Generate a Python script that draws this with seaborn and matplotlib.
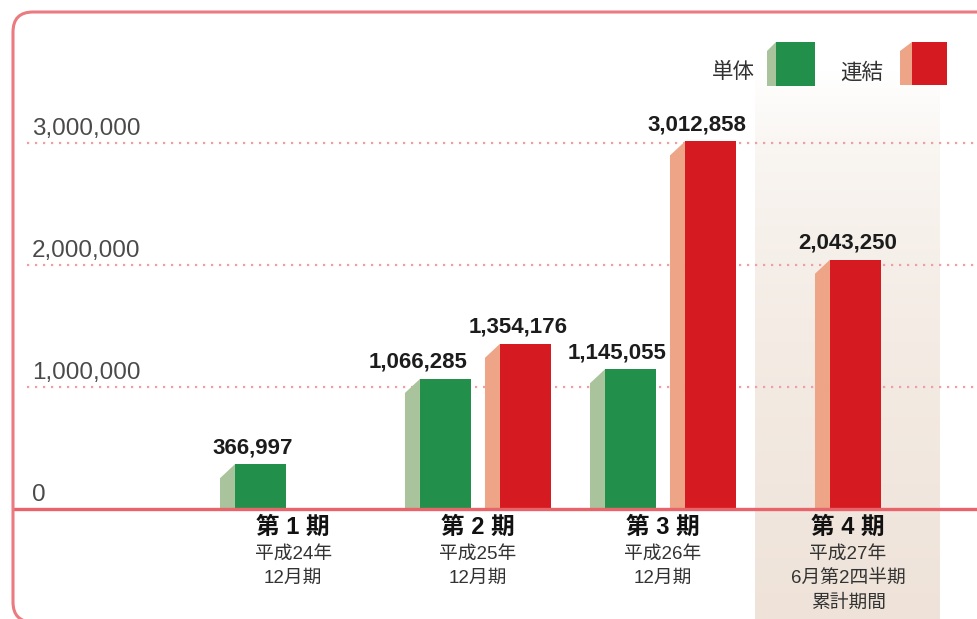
import numpy as np
import pandas as pd
import matplotlib
matplotlib.use("Agg")
import matplotlib.pyplot as plt
import matplotlib.patches as mpatches
import seaborn as sns

# ---------------- data ----------------
periods = ["第 1 期", "第 2 期", "第 3 期", "第 4 期"]
period_sub = [["平成24年", "12月期"],
              ["平成25年", "12月期"],
              ["平成26年", "12月期"],
              ["平成27年", "6月第2四半期", "累計期間"]]
series = ["単体", "連結"]
tantai = [366997, 1066285, 1145055, np.nan]
renketsu = [np.nan, 1354176, 3012858, 2043250]
yticks = [0, 1000000, 2000000, 3000000]
ytick_labels = ["0", "1,000,000", "2,000,000", "3,000,000"]

# ---------------- style ----------------
GREEN, GREEN_SIDE = "#22904a", "#a9c49c"
RED, RED_SIDE = "#d61a22", "#eea486"
PINK = "#eb7b80"
TXT = "#1c1c1c"
W, H = 977, 619

sns.set_theme(style="white")
plt.rcParams["font.family"] = ["Liberation Sans", "Noto Sans CJK JP", "DejaVu Sans"]

fig = plt.figure(figsize=(W / 100, H / 100), dpi=100, facecolor="white")
ax = fig.add_axes([0, 0, 1, 1])

# pixel mapping (layout only)
X0PX, XSTEP = 300.5, 185.0
Y0PX, YSTEP = 509.0, 122.0
def PX(px):
    return (px - X0PX) / XSTEP
def PY(py):
    return (Y0PX - py) / YSTEP * 1e6
XL, XR = PX(0), PX(W)
YB, YT = PY(H), PY(0)

df = pd.DataFrame({
    "period": periods * 2,
    "series": [series[0]] * 4 + [series[1]] * 4,
    "value": tantai + renketsu,
})

sns.barplot(data=df, x="period", y="value", hue="series", order=periods,
            hue_order=series, palette={series[0]: GREEN, series[1]: RED},
            width=0.865, gap=0.362, dodge=True, saturation=1, errorbar=None,
            linewidth=0, legend=False, ax=ax, zorder=3)

# highlight band behind 4th period
grad = np.array([[239, 227, 217], [244, 236, 229], [249, 245, 241], [255, 255, 255]]) / 255.0
gy = np.linspace(0, 1, 200)
stops = np.array([0.0, 0.55, 0.85, 1.0])
img = np.stack([np.interp(gy, stops, grad[:, c]) for c in range(3)], axis=-1)[:, None, :]
ax.imshow(img, extent=[PX(755), PX(940), YB, PY(70)], origin="lower",
          aspect="auto", zorder=0.5, interpolation="bilinear")

side_w = 15 / XSTEP
slant = 14 / YSTEP * 1e6
center_solo = [False, False, False, True]
label_dx = {(series[0], 1): -20, (series[0], 2): -6, (series[1], 2): -6}
side_cols = {series[0]: GREEN_SIDE, series[1]: RED_SIDE}

for cont, s in zip(ax.containers, series):
    for p in cont.patches:
        h = p.get_height()
        if h is None or np.isnan(h) or h == 0:
            continue
        cx = p.get_x() + p.get_width() / 2
        idx = int(round(cx))
        if center_solo[idx]:
            p.set_x(idx - p.get_width() / 2)
        xr = p.get_x()
        xl = xr - side_w
        poly = mpatches.Polygon([(xl, 0), (xl, h - slant), (xr, h), (xr, 0)],
                                closed=True, facecolor=side_cols[s],
                                edgecolor="none", zorder=3)
        ax.add_patch(poly)
        tx = (xl + xr + p.get_width()) / 2 + label_dx.get((s, idx), 0) / XSTEP
        ax.text(tx, h + 11 / YSTEP * 1e6, f"{int(h):,}", ha="center",
                va="baseline", fontsize=16, fontweight="bold", color=TXT,
                zorder=5)

# grid lines and baseline
for v, lab in zip(yticks, ytick_labels):
    if v != 0:
        ax.hlines(v, PX(27), XR, colors="#f29ea1", linestyles=(0, (1, 2.6)),
                  linewidth=1.6, zorder=1)
    ax.text(PX(32), v + 8 / YSTEP * 1e6, lab, ha="left", va="baseline",
            fontsize=17.5, color="#4a4a4a", zorder=5)
ax.hlines(0, PX(13), XR, colors="#e9636a", linewidth=2.4, zorder=4)

# category labels
for i, (p, subs) in enumerate(zip(periods, period_sub)):
    xc = i - 0.04
    ax.text(xc, PY(527), p, ha="center", va="center", fontsize=17,
            fontweight="bold", color="#111111", zorder=5)
    for j, s in enumerate(subs):
        ax.text(xc, PY(554 + 24.5 * j), s, ha="center", va="center",
                fontsize=13.5, color="#333333", zorder=5)

# legend (3D swatches)
def swatch(x_side, x_front, x_right, top, bottom, side_col, front_col):
    ax.add_patch(mpatches.Polygon(
        [(PX(x_side), PY(bottom)), (PX(x_side), PY(top + 9)),
         (PX(x_front), PY(top)), (PX(x_front), PY(bottom))],
        closed=True, facecolor=side_col, edgecolor="none", zorder=5))
    ax.add_patch(mpatches.Rectangle((PX(x_front), PY(bottom)),
                                    PX(x_right) - PX(x_front), PY(top) - PY(bottom),
                                    facecolor=front_col, edgecolor="none", zorder=5))

ax.text(PX(733), PY(73), series[0], ha="center", va="center", fontsize=15.5,
        color="#333333", zorder=5)
swatch(767, 776, 815, 42, 86, GREEN_SIDE, GREEN)
ax.text(PX(862), PY(73), series[1], ha="center", va="center", fontsize=15.5,
        color="#333333", zorder=5)
swatch(900, 912, 947, 42, 85, RED_SIDE, RED)

ax.set_xlim(XL, XR)
ax.set_ylim(YB, YT)
ax.axis("off")

# rounded frame (bottom edge falls just outside the canvas)
frame = mpatches.FancyBboxPatch((0.13, -0.03), 12, 6.10,
                                boxstyle="round,pad=0,rounding_size=0.2",
                                transform=fig.dpi_scale_trans, facecolor="none",
                                edgecolor=PINK, linewidth=2.2, zorder=6,
                                clip_on=False)
fig.patches.append(frame)

fig.savefig("out.png", dpi=100, facecolor="white")
